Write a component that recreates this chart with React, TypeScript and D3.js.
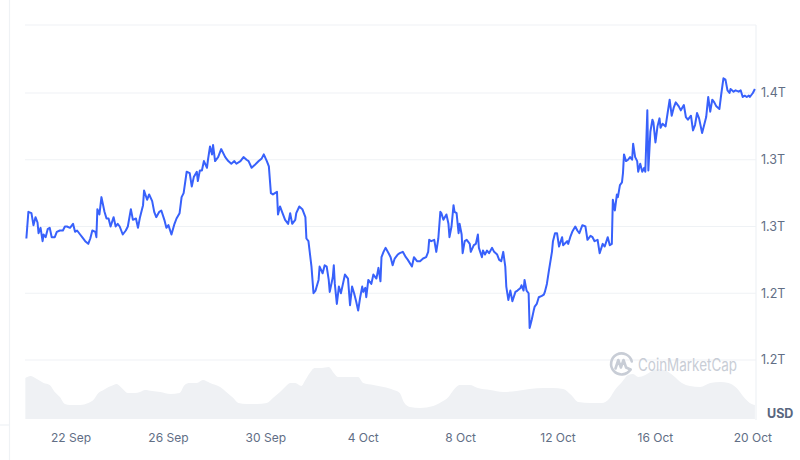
import React from "react";
import * as d3 from "d3";

// hours since 2024-09-20 00:00 UTC, market cap in billions USD
const marketCapSeries: [number, number][] = [
  [4,1266],[6,1286],[9,1285],[11,1276],[13,1282],[15,1278],[16,1270],[18,1274],[20,1264],[21,1269],
  [23,1267],[25,1273],[27,1274],[29,1267],[32,1267],[34,1271],[37,1272],[40,1272],[42,1275],[44,1275],
  [47,1274],[50,1277],[52,1271],[54,1272],[57,1269],[59,1267],[62,1264],[65,1262],[67,1266],[69,1272],
  [72,1271],[73,1267],[74,1288],[76,1284],[78,1297],[81,1286],[83,1281],[85,1281],[87,1275],[90,1282],
  [92,1275],[94,1277],[96,1275],[99,1269],[102,1272],[104,1275],[107,1288],[109,1280],[112,1281],[114,1274],
  [116,1282],[119,1291],[120,1302],[123,1295],[125,1299],[128,1294],[130,1286],[132,1282],[135,1286],[137,1287],
  [140,1280],[142,1274],[144,1276],[147,1269],[150,1277],[152,1281],[155,1285],[157,1297],[159,1300],[162,1316],
  [165,1315],[167,1305],[169,1312],[172,1316],[173,1309],[175,1317],
  [177,1317],[179,1324],[182,1319],[183,1325],[185,1335],[187,1329],[188,1336],[190,1324],[193,1327],[196,1333],
  [200,1327],[203,1324],[206,1322],[209,1324],[211,1322],[215,1324],[218,1327],[221,1325],[223,1324],[226,1319],
  [229,1321],[233,1324],[236,1326],[238,1329],[241,1324],[243,1320],[245,1300],[247,1299],[249,1300],[251,1301],
  [252,1284],[254,1290],[256,1286],[259,1280],[262,1277],[264,1285],[266,1277],[269,1280],[270,1285],[273,1290],
  [276,1288],[279,1282],[280,1266],[282,1264],[285,1245],[287,1225],[289,1227],[292,1235],[293,1245],[296,1240],
  [298,1246],[300,1245],[302,1235],[303,1226],[306,1237],[307,1246],[308,1232],[310,1217],[312,1230],[314,1225],
  [316,1232],[318,1239],[321,1236],[323,1216],[325,1230],[327,1225],[329,1219],[331,1212],[333,1222],[335,1230],
  [336,1226],[338,1229],[339,1222],[341,1235],[344,1232],[346,1239],
  [349,1236],[351,1244],[353,1234],[354,1252],[356,1256],[358,1259],[361,1255],[363,1252],[365,1246],[367,1251],
  [370,1254],[372,1255],[375,1256],[378,1252],[380,1250],[384,1245],[386,1252],[389,1249],[392,1249],[395,1251],
  [398,1252],[400,1256],[401,1265],[403,1264],[406,1265],[408,1256],[410,1266],[412,1286],[413,1285],[415,1280],
  [418,1284],[420,1277],[421,1267],[423,1275],[425,1291],[426,1286],[428,1285],[430,1270],[431,1277],[433,1269],
  [434,1255],[436,1264],[438,1265],[441,1262],[442,1256],[445,1261],[447,1262],[449,1269],[450,1259],[453,1252],
  [454,1257],[456,1254],[458,1257],[460,1255],[463,1259],[465,1256],[468,1254],[470,1250],[472,1249],[474,1256],
  [476,1245],[477,1230],[479,1220],[481,1227],[483,1219],[486,1226],[488,1227],[491,1229],[492,1231],[494,1227],
  [495,1235],[497,1227],[499,1225],[500,1199],[502,1205],[504,1212],[505,1215],[507,1217],[509,1222],[512,1223],
  [514,1224],[515,1226],[517,1232],[519,1242],[522,1256],[523,1264],[525,1270],[527,1270],[529,1260],[532,1267],
  [533,1261],[537,1264],[538,1262],[540,1267],[542,1271],[545,1275],[547,1272],[549,1270],[552,1276],[555,1275],
  [557,1265],[560,1268],[562,1267],[564,1264],[567,1265],[569,1255],[572,1262],[574,1260],[577,1267],[579,1261],
  [581,1262],[582,1295],[584,1287],[586,1299],[587,1297],[589,1306],[591,1308],[592,1315],[593,1329],[595,1324],
  [597,1325],[599,1327],[601,1325],[602,1337],[604,1327],[606,1324],[607,1316],[609,1322],[611,1316],[613,1319],
  [614,1316],[616,1362],[617,1317],[619,1346],[621,1355],[622,1353],[624,1338],[626,1350],[628,1356],[629,1349],
  [631,1352],[634,1350],[636,1360],[638,1370],[640,1358],[642,1364],[644,1368],[647,1365],[649,1362],[652,1366],
  [654,1357],[656,1355],[659,1358],[661,1347],[663,1351],[665,1360],[667,1356],[670,1345],[672,1351],[674,1357],
  [676,1372],[678,1361],[680,1370],[682,1368],[684,1365],[687,1363],[689,1375],[691,1386],[693,1385],[695,1377],
  [697,1375],[698,1378],[701,1376],[703,1377],[706,1376],[708,1377],[710,1372],[712,1373],[714,1372],[716,1373],
  [717,1372],[720,1375],[722,1378],
];

// hours since start, volume in billions USD
const volumeSeries: [number, number][] = [
  [3,41],[8,43],[11,42],[16,39],[21,36],[27,34],[32,27],[37,22],[42,15],[47,14],[57,14],[65,16],[70,19],[75,26],
  [80,29],[85,32],[90,34],[93,35],[98,31],[104,26],[111,26],[116,27],[121,29],[128,28],[136,27],[146,25],[155,26],
  [160,34],[165,36],[172,36],[178,39],[185,36],[195,32],[201,27],[208,21],[213,16],[221,15],[231,15],[241,16],
  [247,21],[254,27],[259,32],[264,36],[269,36],[275,33],[279,39],[284,47],[288,51],[295,51],[302,52],[307,46],
  [311,42],[320,42],[326,42],[331,42],[336,36],[346,34],[356,32],[366,29],[372,26],[376,17],[382,12],[392,11],
  [405,13],[413,17],[420,22],[425,29],[431,34],[441,34],[449,31],[461,29],[474,27],[487,28],[500,30],[514,31],
  [523,31],[533,30],[541,24],[548,17],[560,16],[571,16],[579,21],[584,29],[591,37],[597,44],[602,45],[607,42],
  [614,44],[619,47],[627,50],[635,48],[642,43],[650,36],[658,33],[668,32],[678,36],[688,37],[696,36],[704,31],
  [711,22],[717,16],[722,14],
];

const yTickValues = [1375, 1325, 1275, 1225, 1175];
const yTickLabels = ["1.4T", "1.3T", "1.3T", "1.2T", "1.2T"];
const xTickDates = ["2024-09-22", "2024-09-26", "2024-09-30", "2024-10-04", "2024-10-08", "2024-10-12", "2024-10-16", "2024-10-20"];
const xTickLabels = ["22 Sep", "26 Sep", "30 Sep", "4 Oct", "8 Oct", "12 Oct", "16 Oct", "20 Oct"];
const currencyLabel = "USD";
const watermark = "CoinMarketCap";

const START = Date.UTC(2024, 8, 20, 0, 0);
const toDate = (h: number) => new Date(START + h * 3600e3);

export default function App() {
  const W = 800, H = 460;
  const left = 25, right = 756, top = 25, bottom = 419;

  const x = d3.scaleUtc()
    .domain([toDate(2.66), toDate(723.1)])
    .range([left, right]);
  const y = d3.scaleLinear().domain([1175, 1375]).range([360, 93]);
  const yv = d3.scaleLinear().domain([0, 60]).range([bottom, bottom - 60]);

  const line = d3.line<[number, number]>()
    .x(d => x(toDate(d[0])))
    .y(d => y(d[1]));
  const area = d3.area<[number, number]>()
    .x(d => x(toDate(d[0])))
    .y0(bottom)
    .y1(d => yv(d[1]))
    .curve(d3.curveMonotoneX);

  const grid = "#eff2f5";
  const font = "Inter, 'Noto Sans', sans-serif";
  const wm = "#c8cdd6";

  return (
    <svg width={W} height={H} style={{ position: "absolute", left: 0, top: 0, background: "#fff" }} fontFamily={font}>
      <line x1={9.5} x2={9.5} y1={0} y2={H} stroke={grid} strokeWidth={1.2} />
      <line x1={0} x2={9.5} y1={425} y2={425} stroke={grid} strokeWidth={1.2} />
      <line x1={left} x2={right} y1={top} y2={top} stroke={grid} strokeWidth={1.2} />
      <line x1={right} x2={right} y1={top} y2={bottom + 1} stroke={grid} strokeWidth={1.2} />
      {yTickValues.map((v, i) => (
        <g key={i}>
          <line x1={left} x2={right} y1={y(v)} y2={y(v)} stroke={grid} strokeWidth={1.2} />
          <text x={761} y={y(v)} dy="0.35em" fontSize={12.5} fill="#616e85">{yTickLabels[i]}</text>
        </g>
      ))}
      <path d={area(volumeSeries) || ""} fill="#eff1f4" />
      <g transform="translate(621.5,363.5)" fill="none" stroke={wm} strokeWidth={2.6} strokeLinecap="round" strokeLinejoin="round">
        <path d="M 9 6 A 10.5 10.5 0 1 1 10.3 -2" />
        <path d="M -6 5 L -3.2 -3.5 L -0.6 4 L 2 -3.5 L 4.6 4 L 9 6" />
      </g>
      <text x={638} y={370.5} fontSize={17} fill={wm} textLength={99} lengthAdjust="spacingAndGlyphs">{watermark}</text>
      <path d={line(marketCapSeries) || ""} fill="none" stroke="#3861fb" strokeWidth={2} strokeLinejoin="round" />
      {xTickDates.map((d, i) => (
        <text key={d} x={x(new Date(d + "T00:00:00Z"))} y={438} dy="0.35em" textAnchor="middle" fontSize={12} fill="#616e85">
          {xTickLabels[i]}
        </text>
      ))}
      <text x={767} y={414} dy="0.35em" fontSize={12.5} fontWeight={700} fill="#58667e">{currencyLabel}</text>
    </svg>
  );
}
